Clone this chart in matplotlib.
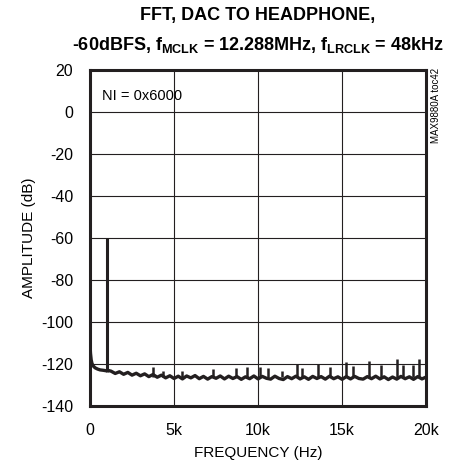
import matplotlib
matplotlib.use("Agg")
import matplotlib.pyplot as plt

# noise floor (Hz, dB)
noise_freq = [0, 30, 70, 120, 200, 300, 450, 600, 800, 950, 1050,
              1250, 1500, 1750, 2000, 2250, 2500, 2750, 3000, 3250, 3500,
              3750, 4000, 4250, 4500, 4750, 5000, 5250, 5500, 5750, 6000,
              6250, 6500, 6750, 7000, 7250, 7500, 7750, 8000, 8250, 8500,
              8750, 9000, 9250, 9500, 9750, 10000, 10250, 10500, 10750, 11000,
              11250, 11500, 11750, 12000, 12250, 12500, 12750, 13000, 13250, 13500,
              13750, 14000, 14250, 14500, 14750, 15000, 15250, 15500, 15750, 16000,
              16250, 16500, 16750, 17000, 17250, 17500, 17750, 18000, 18250, 18500,
              18750, 19000, 19250, 19500, 19750, 20000]
noise_db = [-111, -115, -118, -119.8, -121, -121.8, -122.4, -122.8, -123.0, -123.2, -123.0,
            -123.4, -124.5, -123.7, -124.9, -124.0, -125.3, -124.4, -125.6, -124.7, -126.0,
            -125.0, -126.3, -125.3, -126.6, -125.6, -126.9, -125.8, -127.1, -125.7, -126.6,
            -125.5, -127.0, -125.9, -127.2, -126.0, -126.8, -125.7, -127.1, -125.8, -126.9,
            -126.0, -127.3, -126.1, -127.0, -125.7, -127.1, -125.9, -126.8, -127.2, -125.8,
            -126.9, -127.4, -126.0, -127.0, -125.8, -127.1, -126.1, -127.3, -125.9, -126.9,
            -126.0, -127.2, -125.8, -127.0, -126.1, -127.3, -126.0, -127.1, -125.9, -126.9,
            -127.2, -126.0, -127.0, -125.8, -127.1, -126.1, -127.4, -126.2, -127.2, -125.9,
            -127.0, -126.1, -127.3, -126.0, -127.1, -126.2]

# fundamental and spurs (Hz, peak dB)
tone_freq = 1000
tone_db = -60
spur_freq = [3750, 4365, 5456, 7341, 8673, 9327, 10119, 10613, 11411, 12304, 12601,
             13589, 14286, 15238, 15673, 16625, 17304, 18292, 18613, 19244, 19583]
spur_db = [-121.6, -123.5, -123.5, -122.5, -122.0, -121.3, -121.4, -122.0, -123.5, -120.2, -122.0,
           -120.2, -121.4, -118.9, -121.0, -118.7, -120.7, -117.6, -120.6, -120.3, -117.6]

x_ticks = [0, 5000, 10000, 15000, 20000]
x_labels = ["0", "5k", "10k", "15k", "20k"]
y_ticks = [20, 0, -20, -40, -60, -80, -100, -120, -140]

plt.rcParams["font.family"] = ["Liberation Sans", "DejaVu Sans"]
plt.rcParams["axes.unicode_minus"] = False
plt.rcParams["mathtext.fontset"] = "custom"
plt.rcParams["mathtext.rm"] = "Liberation Sans"
plt.rcParams["mathtext.bf"] = "Liberation Sans:bold"

fig = plt.figure(figsize=(4.5, 4.68), dpi=100)
ax = fig.add_axes([0.2, 0.1325, 0.747, 0.7175])

trace = "#231f20"
ax.plot(noise_freq, noise_db, color=trace, lw=2.4, zorder=3)
ax.vlines(tone_freq, -124, tone_db, color=trace, lw=2.2, zorder=3)
ax.vlines(spur_freq, -126.3, spur_db, color=trace, lw=1.8, zorder=3)

ax.set_xlim(0, 20000)
ax.set_ylim(-140, 20)
ax.set_xticks(x_ticks)
ax.set_xticklabels(x_labels)
ax.set_yticks(y_ticks)
ax.tick_params(length=0, labelsize=11.5, pad=12)
ax.grid(True, color=trace, lw=0.8)
for s in ax.spines.values():
    s.set_linewidth(2.2)
    s.set_color(trace)

ax.set_xlabel("FREQUENCY (Hz)", fontsize=11, labelpad=6)
ax.set_ylabel("AMPLITUDE (dB)", fontsize=11, labelpad=4)

ax.text(0.035, 0.945, "NI = 0x6000", transform=ax.transAxes, fontsize=10.5,
        va="top", ha="left")
fig.text(0.969, 0.775, "MAX9880A toc42", rotation=90, fontsize=7,
         ha="center", va="center")

fig.text(0.573, 0.967, "FFT, DAC TO HEADPHONE,", fontsize=13, fontweight="bold",
         ha="center", va="center")
fig.text(0.573, 0.903,
         r"-60dBFS, f$\mathbf{_{MCLK}}$ = 12.288MHz, f$\mathbf{_{LRCLK}}$ = 48kHz",
         fontsize=13, fontweight="bold", ha="center", va="center")

fig.savefig("out.png", dpi=100)
